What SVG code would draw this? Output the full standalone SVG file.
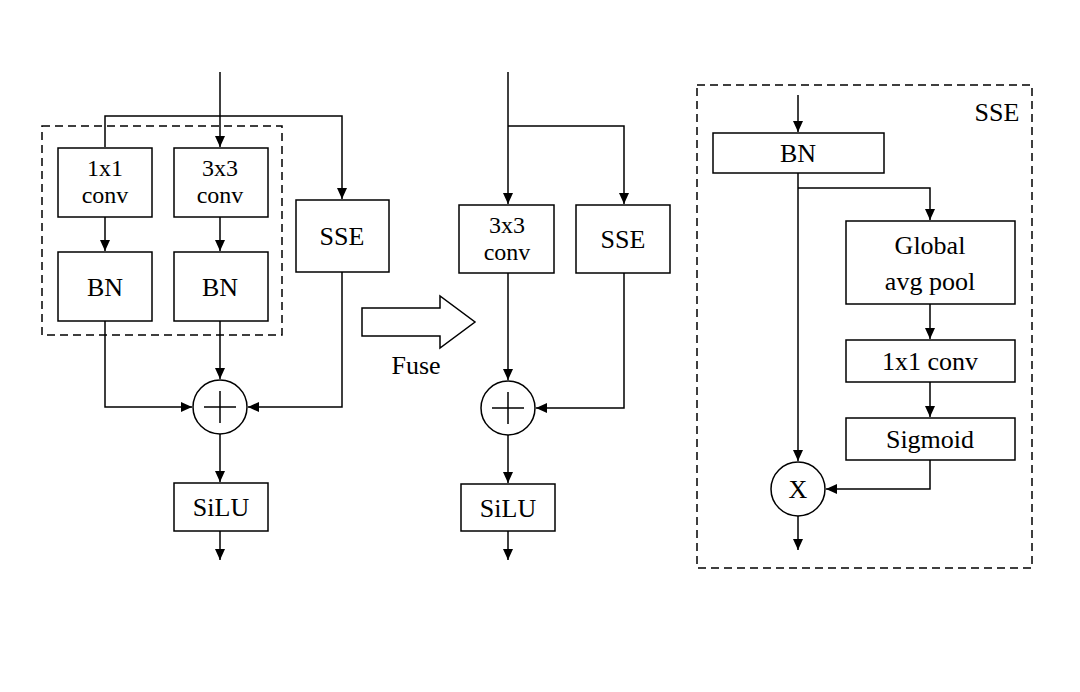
<svg xmlns="http://www.w3.org/2000/svg" width="1080" height="692" viewBox="0 0 1080 692">
<style>
.b{fill:#fff;stroke:#000;stroke-width:1.5}
.d{fill:none;stroke:#000;stroke-width:1.5;stroke-dasharray:8,5}
.l{fill:none;stroke:#000;stroke-width:1.5}
text{font-family:"Liberation Serif",serif;font-size:26px;text-anchor:middle;fill:#000}
.s{font-size:24px}
</style>
<defs><marker id="a" markerWidth="12" markerHeight="12" refX="11" refY="6" orient="auto" markerUnits="userSpaceOnUse"><path d="M0,1L11,6L0,11z"/></marker></defs>
<rect width="1080" height="692" fill="#fff"/>
<rect class="d" x="42" y="126" width="240" height="209"/>
<rect class="d" x="697" y="85" width="335" height="483"/>
<text x="997" y="121">SSE</text>
<g id="connectors">
<path class="l" d="M220,72V147" marker-end="url(#a)"/>
<path class="l" d="M105,147V116H342V199" marker-end="url(#a)"/>
<path class="l" d="M105,217V251" marker-end="url(#a)"/>
<path class="l" d="M220,217V251" marker-end="url(#a)"/>
<path class="l" d="M105,321V407H192" marker-end="url(#a)"/>
<path class="l" d="M220,321V379" marker-end="url(#a)"/>
<path class="l" d="M342,272V407H248" marker-end="url(#a)"/>
<path class="l" d="M220,434V482" marker-end="url(#a)"/>
<path class="l" d="M220,531V560" marker-end="url(#a)"/>
<path class="l" d="M508,72V204" marker-end="url(#a)"/>
<path class="l" d="M508,126H624V204" marker-end="url(#a)"/>
<path class="l" d="M508,273V380" marker-end="url(#a)"/>
<path class="l" d="M624,273V408H536" marker-end="url(#a)"/>
<path class="l" d="M508,435V483" marker-end="url(#a)"/>
<path class="l" d="M508,531V560" marker-end="url(#a)"/>
<path class="l" d="M798,95V132" marker-end="url(#a)"/>
<path class="l" d="M798,173V461" marker-end="url(#a)"/>
<path class="l" d="M798,188H930V220" marker-end="url(#a)"/>
<path class="l" d="M930,304V339" marker-end="url(#a)"/>
<path class="l" d="M930,382V417" marker-end="url(#a)"/>
<path class="l" d="M930,460V489H826" marker-end="url(#a)"/>
<path class="l" d="M798,516V550" marker-end="url(#a)"/>
</g>
<g id="fuse"><path class="b" d="M362,308H440V296L475,322L440,348V336H362z"/><text x="416" y="374">Fuse</text></g>
<g id="conv1x1"><rect class="b" x="58" y="148" width="94" height="69"/><text class="s" x="105" y="176">1x1</text><text class="s" x="105" y="203">conv</text></g>
<g id="conv3x3"><rect class="b" x="174" y="148" width="94" height="69"/><text class="s" x="220" y="176">3x3</text><text class="s" x="220" y="203">conv</text></g>
<g id="bn1"><rect class="b" x="58" y="252" width="94" height="69"/><text x="105" y="296">BN</text></g>
<g id="bn2"><rect class="b" x="174" y="252" width="94" height="69"/><text x="220" y="296">BN</text></g>
<g id="sse1"><rect class="b" x="296" y="200" width="93" height="72"/><text x="342" y="245">SSE</text></g>
<g id="add1"><circle class="b" cx="220" cy="407" r="27"/><path class="l" d="M204,407H236M220,391V423"/></g>
<g id="silu1"><rect class="b" x="174" y="483" width="94" height="48"/><text x="221" y="516">SiLU</text></g>
<g id="conv3x3m"><rect class="b" x="459" y="205" width="95" height="68"/><text class="s" x="507" y="233">3x3</text><text class="s" x="507" y="260">conv</text></g>
<g id="sse2"><rect class="b" x="576" y="205" width="94" height="68"/><text x="623" y="248">SSE</text></g>
<g id="add2"><circle class="b" cx="508" cy="408" r="27"/><path class="l" d="M492,408H524M508,392V424"/></g>
<g id="silu2"><rect class="b" x="461" y="484" width="94" height="47"/><text x="508" y="517">SiLU</text></g>
<g id="bnr"><rect class="b" x="713" y="133" width="171" height="40"/><text x="798" y="162">BN</text></g>
<g id="gap"><rect class="b" x="846" y="221" width="169" height="83"/><text x="930" y="254">Global</text><text x="930" y="290">avg pool</text></g>
<g id="conv1r"><rect class="b" x="846" y="340" width="169" height="42"/><text x="930" y="370">1x1 conv</text></g>
<g id="sig"><rect class="b" x="846" y="418" width="169" height="42"/><text x="930" y="448">Sigmoid</text></g>
<g id="mul"><circle class="b" cx="798" cy="489" r="27"/><text x="798" y="498">X</text></g>
</svg>
